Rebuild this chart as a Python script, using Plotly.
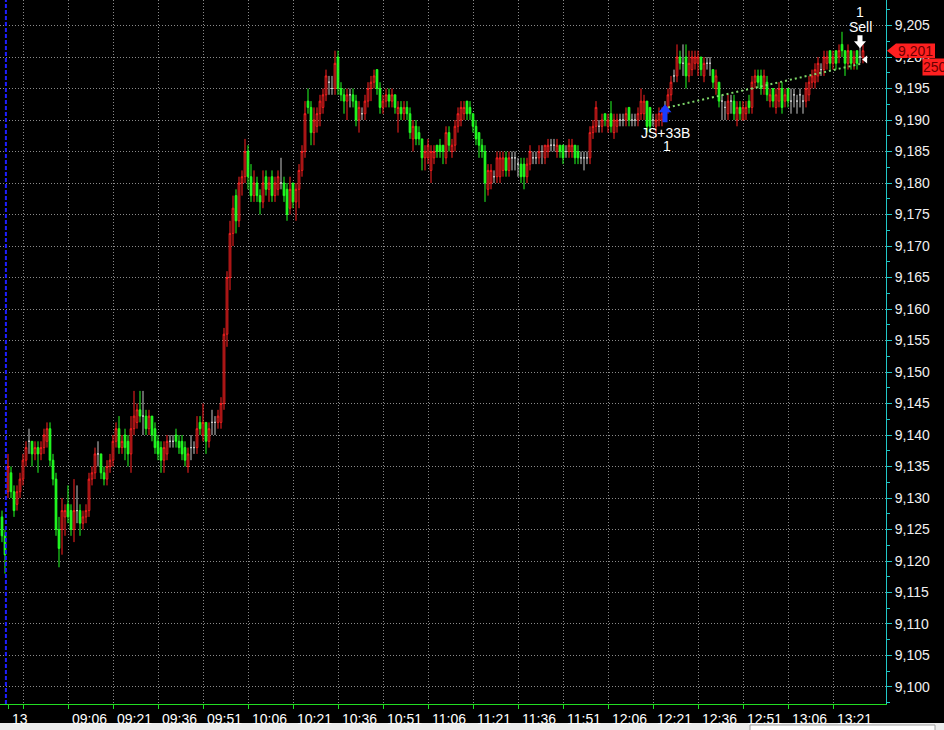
import plotly.graph_objects as go

# ---------------- data (1-minute bars, first bar 08:44) ----------------
start_time = "08:44"

opens = [
    9127, 9124, 9131, 9134, 9131, 9129, 9131, 9133, 9136, 9139,
    9139, 9137, 9138, 9137, 9138, 9139, 9141, 9136, 9133, 9125,
    9125, 9127, 9129, 9128, 9125, 9128, 9128, 9126, 9127, 9128,
    9133, 9134, 9137, 9137, 9134, 9133, 9135, 9136, 9139, 9141,
    9138, 9140, 9139, 9137, 9141, 9142, 9144, 9143, 9143, 9141,
    9143, 9141, 9139, 9138, 9136, 9137, 9139, 9139, 9140, 9139,
    9139, 9138, 9135, 9138, 9138, 9138, 9142, 9140, 9142, 9139,
    9142, 9142, 9142, 9142, 9145, 9156, 9165, 9172, 9178, 9174,
    9180, 9181, 9185, 9181, 9178, 9180, 9178, 9177, 9181, 9179,
    9181, 9178, 9179, 9180, 9180, 9179, 9176, 9180, 9177, 9179,
    9182, 9185, 9193, 9192, 9188, 9189, 9191, 9192, 9194, 9196,
    9195, 9195, 9200, 9195, 9194, 9193, 9194, 9194, 9193, 9190,
    9191, 9191, 9193, 9195, 9196, 9198, 9195, 9192, 9193, 9194,
    9193, 9194, 9191, 9192, 9191, 9192, 9191, 9187, 9189, 9188,
    9187, 9184, 9184, 9182, 9184, 9186, 9186, 9186, 9184, 9188,
    9185, 9186, 9189, 9190, 9191, 9193, 9192, 9191, 9189, 9188,
    9186, 9185, 9179, 9180, 9181, 9181, 9181, 9182, 9184, 9182,
    9184, 9184, 9183, 9183, 9183, 9181, 9183, 9184, 9184, 9184,
    9185, 9184, 9185, 9186, 9186, 9185, 9186, 9186, 9185, 9185,
    9185, 9186, 9185, 9184, 9184, 9184, 9184, 9188, 9189, 9189,
    9189, 9191, 9189, 9191, 9188, 9189, 9190, 9190, 9190, 9192,
    9190, 9190, 9190, 9191, 9191, 9193, 9192, 9190, 9189, 9190,
    9190, 9192, 9192, 9194, 9197, 9197, 9200, 9199, 9200, 9197,
    9198, 9199, 9199, 9200, 9197, 9199, 9199, 9198, 9195, 9196,
    9193, 9192, 9191, 9193, 9193, 9190, 9192, 9190, 9191, 9193,
    9192, 9196, 9197, 9197, 9195, 9196, 9193, 9195, 9192, 9193,
    9195, 9193, 9195, 9193, 9194, 9193, 9194, 9193, 9193, 9194,
    9196, 9196, 9197, 9198, 9198, 9199, 9201, 9199, 9201, 9200,
    9202, 9201, 9199, 9201, 9199, 9201, 9200, 9200,
]

highs = [
    9128, 9125, 9137, 9135, 9132, 9132, 9134, 9137, 9139, 9141,
    9139, 9139, 9139, 9139, 9141, 9142, 9142, 9137, 9134, 9127,
    9130, 9129, 9132, 9129, 9133, 9132, 9129, 9128, 9129, 9134,
    9135, 9138, 9139, 9137, 9135, 9136, 9137, 9140, 9142, 9143,
    9140, 9141, 9140, 9143, 9147, 9145, 9147, 9147, 9144, 9144,
    9143, 9142, 9140, 9139, 9139, 9140, 9140, 9140, 9141, 9140,
    9140, 9139, 9138, 9140, 9139, 9143, 9143, 9145, 9142, 9142,
    9144, 9143, 9144, 9146, 9157, 9166, 9174, 9178, 9179, 9181,
    9182, 9187, 9186, 9183, 9182, 9181, 9179, 9182, 9182, 9181,
    9182, 9181, 9182, 9184, 9181, 9180, 9181, 9180, 9180, 9183,
    9186, 9193, 9195, 9193, 9192, 9192, 9194, 9195, 9198, 9197,
    9197, 9201, 9201, 9196, 9195, 9195, 9195, 9195, 9194, 9193,
    9192, 9194, 9196, 9197, 9198, 9198, 9196, 9194, 9195, 9195,
    9195, 9194, 9193, 9193, 9193, 9193, 9192, 9190, 9190, 9189,
    9187, 9186, 9187, 9186, 9186, 9186, 9187, 9186, 9189, 9189,
    9187, 9190, 9192, 9193, 9193, 9193, 9193, 9191, 9190, 9188,
    9187, 9186, 9183, 9183, 9182, 9185, 9185, 9185, 9185, 9185,
    9185, 9185, 9184, 9184, 9184, 9184, 9186, 9185, 9185, 9186,
    9186, 9186, 9187, 9187, 9187, 9187, 9186, 9186, 9186, 9187,
    9187, 9186, 9186, 9185, 9185, 9185, 9189, 9190, 9193, 9190,
    9191, 9191, 9191, 9193, 9191, 9191, 9191, 9191, 9192, 9192,
    9191, 9191, 9192, 9195, 9194, 9193, 9192, 9191, 9191, 9192,
    9192, 9193, 9195, 9197, 9198, 9202, 9201, 9202, 9202, 9201,
    9201, 9201, 9201, 9200, 9200, 9200, 9200, 9198, 9198, 9196,
    9194, 9193, 9194, 9194, 9194, 9193, 9193, 9193, 9193, 9194,
    9197, 9198, 9198, 9198, 9198, 9197, 9195, 9195, 9195, 9196,
    9196, 9195, 9195, 9195, 9195, 9194, 9195, 9194, 9196, 9197,
    9198, 9199, 9200, 9199, 9201, 9201, 9201, 9201, 9201, 9202,
    9204, 9201, 9202, 9201, 9201, 9201, 9202, 9202,
]

lows = [
    9123, 9118, 9130, 9130, 9127, 9128, 9130, 9132, 9135, 9137,
    9135, 9136, 9134, 9136, 9137, 9138, 9135, 9132, 9124, 9119,
    9121, 9124, 9126, 9124, 9123, 9126, 9124, 9125, 9126, 9127,
    9132, 9133, 9135, 9133, 9132, 9132, 9134, 9135, 9138, 9137,
    9137, 9136, 9135, 9134, 9140, 9141, 9142, 9140, 9140, 9140,
    9139, 9137, 9136, 9134, 9134, 9136, 9138, 9138, 9138, 9137,
    9136, 9135, 9134, 9136, 9137, 9137, 9140, 9139, 9137, 9138,
    9140, 9140, 9141, 9141, 9144, 9154, 9163, 9170, 9172, 9173,
    9178, 9180, 9179, 9177, 9177, 9177, 9175, 9176, 9178, 9177,
    9177, 9177, 9178, 9179, 9177, 9174, 9175, 9176, 9174, 9176,
    9181, 9184, 9191, 9186, 9186, 9188, 9189, 9191, 9193, 9194,
    9194, 9194, 9194, 9193, 9191, 9190, 9192, 9192, 9189, 9188,
    9190, 9190, 9192, 9193, 9195, 9194, 9191, 9191, 9192, 9192,
    9192, 9191, 9188, 9190, 9190, 9190, 9187, 9185, 9186, 9186,
    9182, 9182, 9183, 9180, 9183, 9184, 9184, 9183, 9183, 9185,
    9184, 9185, 9188, 9189, 9190, 9190, 9190, 9188, 9186, 9184,
    9184, 9177, 9178, 9179, 9180, 9180, 9180, 9181, 9181, 9181,
    9182, 9182, 9181, 9180, 9179, 9180, 9182, 9183, 9183, 9183,
    9183, 9183, 9184, 9185, 9185, 9184, 9184, 9183, 9184, 9184,
    9184, 9183, 9183, 9183, 9182, 9183, 9183, 9187, 9188, 9188,
    9188, 9189, 9188, 9188, 9187, 9188, 9189, 9189, 9189, 9189,
    9189, 9189, 9189, 9190, 9190, 9188, 9188, 9189, 9188, 9189,
    9189, 9191, 9191, 9193, 9196, 9196, 9198, 9197, 9195, 9196,
    9197, 9198, 9197, 9197, 9196, 9198, 9197, 9195, 9194, 9192,
    9190, 9190, 9190, 9191, 9190, 9189, 9190, 9190, 9190, 9191,
    9191, 9195, 9195, 9194, 9194, 9193, 9192, 9192, 9191, 9192,
    9191, 9192, 9192, 9191, 9192, 9191, 9192, 9191, 9192, 9193,
    9195, 9195, 9196, 9197, 9197, 9198, 9198, 9198, 9198, 9199,
    9200, 9197, 9198, 9198, 9198, 9198, 9199, 9199,
]

closes = [
    9124, 9121, 9135, 9131, 9128, 9131, 9133, 9136, 9138, 9139,
    9137, 9138, 9137, 9138, 9140, 9141, 9136, 9133, 9125, 9122,
    9128, 9128, 9127, 9125, 9128, 9128, 9126, 9127, 9128, 9133,
    9134, 9137, 9137, 9134, 9133, 9135, 9136, 9139, 9141, 9138,
    9139, 9138, 9137, 9141, 9143, 9144, 9143, 9143, 9141, 9143,
    9140, 9138, 9137, 9136, 9138, 9139, 9139, 9139, 9139, 9138,
    9137, 9136, 9137, 9138, 9138, 9141, 9141, 9142, 9139, 9141,
    9142, 9142, 9143, 9145, 9156, 9165, 9172, 9176, 9174, 9180,
    9181, 9185, 9181, 9178, 9180, 9178, 9177, 9180, 9179, 9180,
    9178, 9180, 9181, 9180, 9178, 9175, 9179, 9177, 9179, 9182,
    9185, 9191, 9192, 9188, 9190, 9191, 9193, 9194, 9197, 9196,
    9195, 9199, 9195, 9194, 9193, 9194, 9194, 9193, 9190, 9192,
    9191, 9193, 9195, 9196, 9197, 9195, 9192, 9193, 9194, 9193,
    9194, 9192, 9192, 9191, 9192, 9191, 9188, 9189, 9187, 9187,
    9184, 9185, 9186, 9185, 9185, 9185, 9185, 9185, 9188, 9186,
    9186, 9189, 9191, 9192, 9192, 9191, 9191, 9189, 9187, 9186,
    9185, 9180, 9182, 9182, 9181, 9184, 9184, 9184, 9182, 9184,
    9184, 9184, 9183, 9181, 9181, 9183, 9185, 9184, 9184, 9185,
    9185, 9186, 9186, 9186, 9186, 9186, 9185, 9184, 9185, 9186,
    9186, 9184, 9184, 9184, 9184, 9184, 9188, 9189, 9192, 9189,
    9190, 9190, 9190, 9189, 9190, 9190, 9190, 9190, 9191, 9190,
    9190, 9190, 9191, 9193, 9193, 9189, 9189, 9190, 9190, 9191,
    9191, 9192, 9194, 9196, 9197, 9200, 9199, 9199, 9197, 9199,
    9200, 9200, 9200, 9198, 9199, 9199, 9199, 9196, 9197, 9193,
    9193, 9192, 9193, 9193, 9191, 9192, 9191, 9192, 9192, 9192,
    9196, 9197, 9196, 9195, 9197, 9194, 9194, 9193, 9194, 9195,
    9192, 9194, 9193, 9193, 9194, 9193, 9194, 9193, 9195, 9196,
    9197, 9198, 9199, 9198, 9200, 9200, 9199, 9200, 9199, 9201,
    9201, 9199, 9201, 9199, 9200, 9199, 9200, 9201,
]

# x-axis labels ("13" is the date label on the first bar of the day)
label_times = ["08:46", "09:06", "09:21", "09:36", "09:51", "10:06", "10:21",
               "10:36", "10:51", "11:06", "11:21", "11:36", "11:51", "12:06",
               "12:21", "12:36", "12:51", "13:06", "13:21"]
label_texts = ["13", "09:06", "09:21", "09:36", "09:51", "10:06", "10:21",
               "10:36", "10:51", "11:06", "11:21", "11:36", "11:51", "12:06",
               "12:21", "12:36", "12:51", "13:06", "13:21"]
grid_times = ["08:51", "09:06", "09:21", "09:36", "09:51", "10:06", "10:21",
              "10:36", "10:51", "11:06", "11:21", "11:36", "11:51", "12:06",
              "12:21", "12:36", "12:51", "13:06", "13:21"]
day_break_time = "08:45"

y_ticks = list(range(9100, 9210, 5))

# trade markers
buy_time, buy_price, buy_label, buy_qty = "12:25", 9192, "JS+33B", "1"
sell_time, sell_price, sell_label, sell_qty = "13:30", 9199, "Sell", "1"
last_price = 9201
tag_volume = "250"

assert len(opens) == len(highs) == len(lows) == len(closes)


def idx(t):
    h, m = map(int, t.split(":"))
    h0, m0 = map(int, start_time.split(":"))
    return (h * 60 + m) - (h0 * 60 + m0)


n = len(closes)
xs = list(range(n))

RED = "#ff2020"
GREEN = "#22ff22"
GRAY = "#c8c8c8"
CYAN = "#20c8c8"
AXGREEN = "#22dd22"
GRID = "#8a8a8a"
FONT = "Arial, Liberation Sans, sans-serif"


def sub(sel):
    return dict(x=[xs[i] for i in sel], open=[opens[i] for i in sel],
                high=[highs[i] for i in sel], low=[lows[i] for i in sel],
                close=[closes[i] for i in sel])


up = [i for i in xs if closes[i] > opens[i]]
dn = [i for i in xs if closes[i] < opens[i]]
fl = [i for i in xs if closes[i] == opens[i]]

fig = go.Figure()
fig.add_trace(go.Candlestick(**sub(up), showlegend=False, hoverinfo="skip",
                             increasing=dict(line=dict(color=RED, width=1), fillcolor="#000000"),
                             decreasing=dict(line=dict(color=RED, width=1), fillcolor="#000000")))
fig.add_trace(go.Candlestick(**sub(dn), showlegend=False, hoverinfo="skip",
                             increasing=dict(line=dict(color=GREEN, width=1), fillcolor=GREEN),
                             decreasing=dict(line=dict(color=GREEN, width=1), fillcolor=GREEN)))
fig.add_trace(go.Candlestick(**sub(fl), showlegend=False, hoverinfo="skip",
                             increasing=dict(line=dict(color=GRAY, width=1), fillcolor=GRAY),
                             decreasing=dict(line=dict(color=GRAY, width=1), fillcolor=GRAY)))

# trade line (entry -> exit)
trade_x = [idx(buy_time) + 1, idx(sell_time) + 1]
trade_y = [buy_price, sell_price]
fig.add_trace(go.Scatter(x=trade_x, y=trade_y, mode="lines", showlegend=False,
                         hoverinfo="skip",
                         line=dict(color="#7ed86a", width=2, dash="2px,3px")))

W, H = 944, 730
L, R, T, B = 0, 58, 0, 26
plot_w = W - L - R
plot_h = H - T - B
px_per_bar = 3.0
first_px = 2.0
x_range = [-first_px / px_per_bar, (plot_w - first_px) / px_per_bar]
y_range = [9097.3, 9209.05]

annotations = []
for t, lab in zip(label_times, label_texts):
    annotations.append(dict(x=idx(t), y=0, xref="x", yref="paper", text=lab,
                            showarrow=False, xanchor="left", yanchor="top",
                            xshift=2, yshift=-5,
                            font=dict(family=FONT, size=14, color="#ffffff")))

bx = idx(buy_time)
sx = idx(sell_time)
annotations.append(dict(x=bx, y=buy_price - 4.0, xref="x", yref="y", text=buy_label,
                        showarrow=False, xanchor="center", yanchor="middle",
                        font=dict(family=FONT, size=14, color="#ffffff")))
annotations.append(dict(x=bx + 0.5, y=buy_price - 6.2, xref="x", yref="y", text=buy_qty,
                        showarrow=False, xanchor="center", yanchor="middle",
                        font=dict(family=FONT, size=14, color="#ffffff")))
annotations.append(dict(x=sx, y=sell_price + 5.7, xref="x", yref="y", text=sell_label,
                        showarrow=False, xanchor="center", yanchor="middle",
                        font=dict(family=FONT, size=14, color="#ffffff")))
annotations.append(dict(x=sx, y=sell_price + 8.1, xref="x", yref="y", text=sell_qty,
                        showarrow=False, xanchor="center", yanchor="middle",
                        font=dict(family=FONT, size=14, color="#ffffff")))


def pxp(p):
    return p / plot_w


# price tag + volume tag on the right axis
annotations.append(dict(x=pxp(896), y=last_price, xref="paper", yref="y",
                        text=f"{last_price:,}", showarrow=False, xanchor="left",
                        yanchor="middle",
                        font=dict(family=FONT, size=14, color="#6a0000")))
annotations.append(dict(x=pxp(922), y=last_price - 2.6, xref="paper", yref="y",
                        text=tag_volume, showarrow=False, xanchor="left",
                        yanchor="middle", bgcolor="#ff2020", borderpad=0,
                        font=dict(family=FONT, size=14, color="#6a0000")))


def pixel_marker(xa, ya, path, color):
    return dict(type="path", xref="x", yref="y", xsizemode="pixel", ysizemode="pixel",
                xanchor=xa, yanchor=ya, path=path, fillcolor=color,
                line=dict(width=0), layer="above")


shapes = [
    # day separator
    dict(type="line", xref="x", yref="paper", x0=idx(day_break_time) + 0.3,
         x1=idx(day_break_time) + 0.3, y0=0, y1=1,
         line=dict(color="#1f1fff", width=2, dash="4px,2px"), layer="above"),
    # buy arrow (blue, pointing up)
    pixel_marker(bx, buy_price + 0.5,
                 "M 0,0 L 6.5,-8 L 2.5,-8 L 2.5,-18 L -2.5,-18 L -2.5,-8 L -6.5,-8 Z",
                 "#1a3cff"),
    # sell arrow (white, pointing down)
    pixel_marker(sx, sell_price + 2.4,
                 "M 0,0 L 6,7 L 2.5,7 L 2.5,13 L -2.5,13 L -2.5,7 L -6,7 Z",
                 "#ffffff"),
    # exit pointer (white, pointing left)
    pixel_marker(sx + 0.7, sell_price + 0.6, "M 0,0 L 5,4 L 5,-4 Z", "#ffffff"),
    # price tag pointer
    dict(type="path", xref="paper", yref="y", layer="above",
         path=(f"M {pxp(887)},{last_price} L {pxp(896)},{last_price + 1.15} "
               f"L {pxp(935)},{last_price + 1.15} L {pxp(935)},{last_price - 1.15} "
               f"L {pxp(896)},{last_price - 1.15} Z"),
         fillcolor="#ff2020", line=dict(width=0)),
    # window strip at bottom
    dict(type="rect", xref="paper", yref="paper", x0=0, x1=W / plot_w,
         y0=-(723 - plot_h) / plot_h, y1=-(H - plot_h + 2) / plot_h,
         fillcolor="#ececec", line=dict(width=0), layer="above"),
    dict(type="rect", xref="paper", yref="paper", x0=750 / plot_w, x1=935 / plot_w,
         y0=-(725 - plot_h) / plot_h, y1=-(H - plot_h + 2) / plot_h,
         fillcolor="#ffffff", line=dict(color="#a0a0a0", width=1), layer="above"),
]

fig.update_layout(
    width=W, height=H,
    margin=dict(l=L, r=R, t=T, b=B, pad=0),
    paper_bgcolor="#000000", plot_bgcolor="#000000",
    showlegend=False,
    hovermode=False,
    boxgap=0.2,
    annotations=annotations,
    shapes=shapes,
    xaxis=dict(
        range=x_range, rangeslider=dict(visible=False),
        tickmode="array", tickvals=[idx(t) for t in grid_times],
        ticktext=["" for _ in grid_times],
        ticks="outside", ticklen=4, tickcolor=AXGREEN, tickwidth=1,
        showgrid=True, gridcolor=GRID, griddash="1px,2px", gridwidth=1,
        showline=True, linecolor=AXGREEN, linewidth=1,
        zeroline=False, fixedrange=True,
        minor=dict(tickmode="array", tickvals=[idx(label_times[0])],
                   ticks="outside", ticklen=4, tickcolor=AXGREEN, showgrid=False),
    ),
    yaxis=dict(
        range=y_range, side="right",
        tickmode="array", tickvals=y_ticks,
        ticktext=[f"{v:,}" for v in y_ticks],
        ticks="outside", ticklen=5, tickcolor=CYAN, tickwidth=1,
        tickfont=dict(family=FONT, size=14, color="#f0f0f0"),
        showgrid=True, gridcolor=GRID, griddash="1px,2px", gridwidth=1,
        showline=True, linecolor=CYAN, linewidth=1,
        zeroline=False, fixedrange=True,
        minor=dict(dtick=2.5, tick0=9100, ticks="outside", ticklen=3,
                   tickcolor=CYAN, showgrid=False),
    ),
)

fig.write_html("out.html",
               config={"displayModeBar": False, "staticPlot": True},
               post_script="document.body.style.margin='0px';"
                           "document.body.style.overflow='hidden';")
